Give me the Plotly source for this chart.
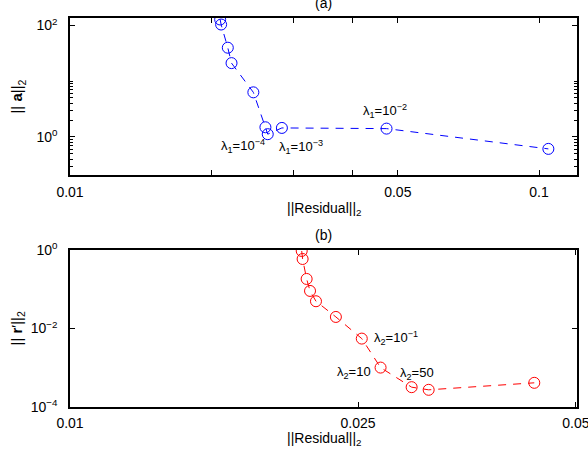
import math
import plotly.graph_objects as go

# ---- data ----
res_a = [0.0209, 0.0210, 0.0217, 0.0221, 0.0246, 0.0261, 0.0264, 0.0283, 0.0473, 0.1047]
norm_a = [128, 104, 39.9, 21.1, 6.31, 1.49, 1.12, 1.45, 1.41, 0.61]

res_b = [0.0209, 0.02096, 0.02123, 0.02146, 0.02187, 0.0233, 0.0253, 0.02686, 0.02965, 0.0313, 0.0438]
norm_b = [0.944, 0.59, 0.183, 0.0906, 0.0495, 0.0197, 0.00553, 0.00101, 0.00032, 0.000274, 0.000413]

xa_ticks = [0.01, 0.02, 0.03, 0.04, 0.05, 0.1]
xa_text = ["0.01", "", "", "", "0.05", "0.1"]
ya_ticks = [1, 100]
ya_text = ["10<sup>0</sup>", "10<sup>2</sup>"]
ya_minor = [0.3, 0.4, 0.5, 0.6, 0.7, 0.8, 0.9, 2, 3, 4, 5, 6, 7, 8, 9, 10]

xb_ticks = [0.01, 0.025, 0.05]
xb_text = ["0.01", "0.025", "0.05"]
yb_ticks = [1, 0.01, 0.0001]
yb_text = ["10<sup>0</sup>", "10<sup>−2</sup>", "10<sup>−4</sup>"]

FONT = "Liberation Sans, Arial, sans-serif"
BLUE = "#0000ff"
RED = "#ff0000"

fig = go.Figure()
fig.add_trace(go.Scatter(x=res_a, y=norm_a, mode="lines+markers", xaxis="x", yaxis="y",
                         line=dict(color=BLUE, width=1, dash="8px,7px"),
                         marker=dict(symbol="circle-open", size=11, color=BLUE, line=dict(width=1, color=BLUE)),
                         showlegend=False))
fig.add_trace(go.Scatter(x=res_b, y=norm_b, mode="lines+markers", xaxis="x2", yaxis="y2",
                         line=dict(color=RED, width=1, dash="8px,7px"),
                         marker=dict(symbol="circle-open", size=11, color=RED, line=dict(width=1, color=RED)),
                         showlegend=False))

axis_common = dict(showline=True, linecolor="black", linewidth=1.5, mirror="ticks",
                   ticks="inside", ticklen=5, tickcolor="black", showgrid=False, zeroline=False,
                   automargin=False, ticklabeloverflow="allow",
                   tickfont=dict(family=FONT, size=14, color="black"))

fig.update_layout(
    width=588, height=456,
    margin=dict(l=70, r=11, t=18, b=49),
    paper_bgcolor="white", plot_bgcolor="white",
    font=dict(family=FONT, size=14, color="black"),
    xaxis=dict(type="log", range=[-2, -0.919], domain=[0, 1], anchor="y",
               tickmode="array", tickvals=xa_ticks, ticktext=xa_text, ticklabelstandoff=3,
               **axis_common),
    yaxis=dict(type="log", range=[-0.686, 2.134], domain=[0.596, 1], anchor="x",
               tickmode="array", tickvals=ya_ticks, ticktext=ya_text, ticklabelstandoff=8,
               minor=dict(tickmode="array", tickvals=ya_minor, ticks="inside", ticklen=3,
                          tickcolor="black", showgrid=False),
               **axis_common),
    xaxis2=dict(type="log", range=[-2, -1.2995], domain=[0, 1], anchor="y2",
                tickmode="array", tickvals=xb_ticks, ticktext=xb_text, ticklabelstandoff=2,
                **axis_common),
    yaxis2=dict(type="log", range=[-4, 0], domain=[0, 0.4036], anchor="x2",
                tickmode="array", tickvals=yb_ticks, ticktext=yb_text, ticklabelstandoff=8,
                **axis_common),
)

ann = []
ann.append(dict(text="(a)", xref="x domain", yref="y domain", x=0.5, y=1, yanchor="middle",
                yshift=15, showarrow=False, font=dict(size=14)))
ann.append(dict(text="(b)", xref="x2 domain", yref="y2 domain", x=0.5, y=1, yanchor="middle",
                yshift=15, showarrow=False, font=dict(size=14)))
ann.append(dict(text="||Residual||<sub>2</sub>", xref="x domain", yref="y domain", x=0.5, y=0,
                yanchor="middle", yshift=-34, showarrow=False, font=dict(size=14)))
ann.append(dict(text="||Residual||<sub>2</sub>", xref="x2 domain", yref="y2 domain", x=0.5, y=0,
                yanchor="middle", yshift=-32, showarrow=False, font=dict(size=14)))
ann.append(dict(text="|| <b>a</b>||<sub>2</sub>", xref="paper", yref="y domain", x=0, y=0.5,
                xanchor="center", yanchor="middle", xshift=-52, textangle=-90, showarrow=False,
                font=dict(size=15)))
ann.append(dict(text="|| <b>r</b>′||<sub>2</sub>", xref="paper", yref="y2 domain", x=0, y=0.5,
                xanchor="center", yanchor="middle", xshift=-53, textangle=-90, showarrow=False,
                font=dict(size=15)))


def lab(text, xv, yv, axes, xanchor, xshift, yshift):
    xr, yr = axes
    return dict(text=text, x=math.log10(xv), y=math.log10(yv), xref=xr, yref=yr,
                xanchor=xanchor, yanchor="middle", xshift=xshift, yshift=yshift,
                showarrow=False, font=dict(size=13))


ann.append(lab("λ<sub>1</sub>=10<sup>−4</sup>", res_a[6], norm_a[6], ("x", "y"), "right", -1, -12))
ann.append(lab("λ<sub>1</sub>=10<sup>−3</sup>", res_a[7], norm_a[7], ("x", "y"), "left", -5, -19))
ann.append(lab("λ<sub>1</sub>=10<sup>−2</sup>", res_a[8], norm_a[8], ("x", "y"), "center", -2, 18))
ann.append(lab("λ<sub>2</sub>=10<sup>−1</sup>", res_b[6], norm_b[6], ("x2", "y2"), "left", 10, 1))
ann.append(lab("λ<sub>2</sub>=10", res_b[7], norm_b[7], ("x2", "y2"), "right", -8, -5))
ann.append(lab("λ<sub>2</sub>=50", res_b[8], norm_b[8], ("x2", "y2"), "center", 5, 14))

fig.update_layout(annotations=ann)
fig.write_html("out.html")
